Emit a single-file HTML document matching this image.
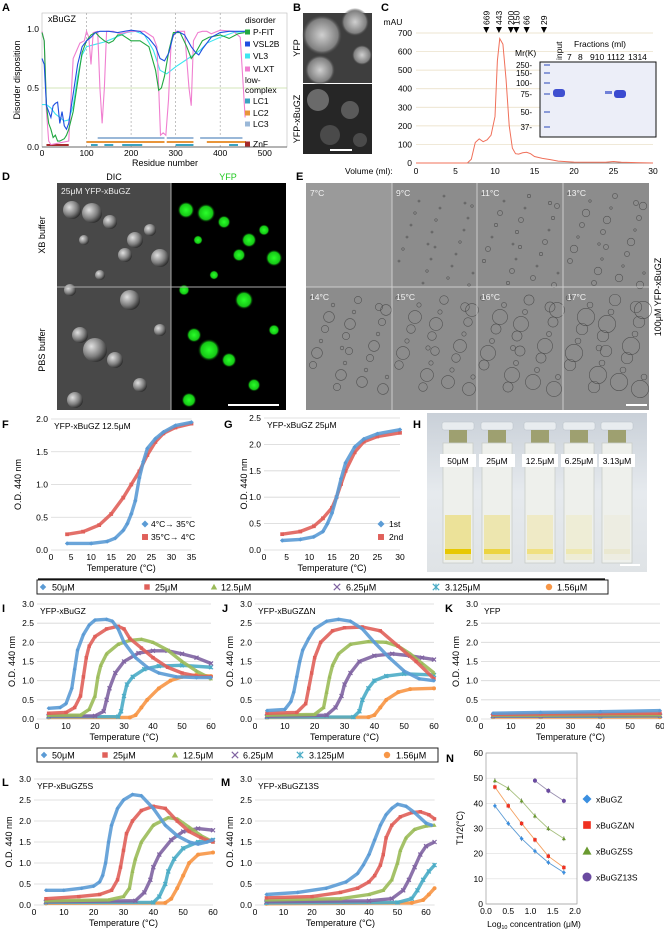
<!DOCTYPE html>
<html><head><meta charset="utf-8">
<style>
html,body{margin:0;padding:0;background:#fff}
svg{display:block;font-family:"Liberation Sans",Arial,sans-serif}
</style></head>
<body>
<svg id="fig" xmlns="http://www.w3.org/2000/svg" width="664" height="936" viewBox="0 0 664 936">
<defs>
<radialGradient id="dicDrop" cx="0.35" cy="0.35" r="0.7"><stop offset="0" stop-color="#e0e0e0"/><stop offset="0.6" stop-color="#808080"/><stop offset="1" stop-color="#2a2a2a"/></radialGradient>
<radialGradient id="gfpDrop" cx="0.5" cy="0.5" r="0.5"><stop offset="0" stop-color="#2aff2a"/><stop offset="0.7" stop-color="#16c816"/><stop offset="1" stop-color="#000" stop-opacity="0"/></radialGradient>
<radialGradient id="bBlob" cx="0.5" cy="0.5" r="0.5"><stop offset="0" stop-color="#d0d0d0"/><stop offset="0.8" stop-color="#808080"/><stop offset="1" stop-color="#4a4a4a" stop-opacity="0"/></radialGradient>
<linearGradient id="hBg" x1="0" y1="0" x2="0" y2="1"><stop offset="0" stop-color="#c9d0d8"/><stop offset="0.5" stop-color="#e6eaee"/><stop offset="1" stop-color="#dfe3e6"/></linearGradient>
</defs>
<g id="static">
<text x="2" y="11" font-size="11" font-weight="bold">A</text>
<text x="293" y="11" font-size="11" font-weight="bold">B</text>
<text x="381" y="11" font-size="11" font-weight="bold">C</text>
<text x="2" y="180" font-size="11" font-weight="bold">D</text>
<text x="296" y="180" font-size="11" font-weight="bold">E</text>
<text x="2" y="428" font-size="11" font-weight="bold">F</text>
<text x="224" y="428" font-size="11" font-weight="bold">G</text>
<text x="413" y="428" font-size="11" font-weight="bold">H</text>
<text x="2" y="612" font-size="11" font-weight="bold">I</text>
<text x="222" y="612" font-size="11" font-weight="bold">J</text>
<text x="445" y="612" font-size="11" font-weight="bold">K</text>
<text x="2" y="786" font-size="11" font-weight="bold">L</text>
<text x="221" y="786" font-size="11" font-weight="bold">M</text>
<text x="446" y="762" font-size="11" font-weight="bold">N</text>

<g>
<rect x="303" y="13" width="69" height="70" fill="#3e3e3e"/>
<circle cx="322" cy="35" r="20" fill="url(#bBlob)"/><circle cx="355" cy="22" r="14" fill="url(#bBlob)"/><circle cx="320" cy="70" r="15" fill="url(#bBlob)"/><circle cx="362" cy="55" r="10" fill="url(#bBlob)"/>
<rect x="303" y="84" width="69" height="70" fill="#262626"/>
<circle cx="318" cy="100" r="11" fill="#6a6a6a"/><circle cx="350" cy="110" r="9" fill="#5a5a5a"/><circle cx="330" cy="135" r="10" fill="#4a4a4a"/><circle cx="360" cy="140" r="7" fill="#4a4a4a"/>
<rect x="330" y="149" width="22" height="2" fill="#fff"/>
<text transform="translate(300,48) rotate(-90)" font-size="9" text-anchor="middle">YFP</text>
<text transform="translate(300,119) rotate(-90)" font-size="9" text-anchor="middle">YFP-xBuGZ</text>
</g>

<g>
<text x="114" y="180" font-size="9" text-anchor="middle">DIC</text>
<text x="228" y="180" font-size="9" text-anchor="middle" fill="#1ec81e">YFP</text>
<rect x="57" y="183" width="114" height="227" fill="#484848"/>
<rect x="171" y="183" width="115" height="227" fill="#000"/>
<g id="dDrops"></g>
<line x1="57" y1="287" x2="286" y2="287" stroke="#aaa" stroke-width="1"/>
<line x1="171" y1="183" x2="171" y2="410" stroke="#aaa" stroke-width="1"/>
<text x="61" y="194" font-size="8.5" fill="#eee">25μM YFP-xBuGZ</text>
<rect x="228" y="404" width="51" height="2" fill="#fff"/>
<text transform="translate(45,235) rotate(-90)" font-size="9" text-anchor="middle">XB buffer</text>
<text transform="translate(45,350) rotate(-90)" font-size="9" text-anchor="middle">PBS buffer</text>
</g>
<g>
<rect x="306" y="183" width="343" height="227" fill="#8c8c8c"/>
<rect x="306" y="183" width="86" height="104" fill="#9a9a9a"/>
<g id="eDrops"></g>
<g stroke="#ccc" stroke-width="1"><line x1="392" y1="183" x2="392" y2="410"/><line x1="477" y1="183" x2="477" y2="410"/><line x1="563" y1="183" x2="563" y2="410"/><line x1="306" y1="287" x2="649" y2="287"/></g>
<g font-size="8.5" fill="#f4f4f4"><text x="310" y="196">7°C</text><text x="396" y="196">9°C</text><text x="481" y="196">11°C</text><text x="567" y="196">13°C</text><text x="310" y="300">14°C</text><text x="396" y="300">15°C</text><text x="481" y="300">16°C</text><text x="567" y="300">17°C</text></g>
<rect x="626" y="404" width="21" height="2" fill="#fff"/>
<text transform="translate(661,297) rotate(-90)" font-size="9" text-anchor="middle">100μM YFP-xBuGZ</text>
</g>

<g>
<rect x="427" y="413" width="220" height="159" fill="url(#hBg)"/>
<g id="cuvettes"></g>
<rect x="620" y="564" width="20" height="2" fill="#fff"/>
</g>
<line x1="38" y1="579" x2="605" y2="579" stroke="#000" stroke-width="1.2"/>

<rect x="37" y="580" width="571" height="14" fill="#fff" stroke="#222" stroke-width="1"/>
<rect x="37" y="748" width="401" height="14" fill="#fff" stroke="#222" stroke-width="1"/>
<g id="legends"></g>
</g>
<g id="charts"></g>
</svg>
<script>
// ===== Panel A data (residue, disorder) =====
const aPfitX=[0,5,10,15,20,25,30,35,40,50,55,60,70,80,90,100,110,120,130,140,150,160,170,180,200,220,240,255,262,268,275,285,295,310,325,335,345,360,375,400,420,440,455];
const aPfitY=[.97,.9,.35,.2,.15,.08,.1,.05,.05,.07,.1,.15,.3,.55,.8,.9,.95,.97,.93,.9,.88,.9,.95,.95,.9,.9,.85,.65,.48,.5,.6,.82,.97,.97,.85,.75,.8,.9,.93,.95,.92,.96,.97];
const aVsl2bX=[0,5,10,15,20,25,30,35,40,45,50,55,60,70,80,90,100,110,120,130,150,170,200,220,240,255,265,275,285,295,305,320,335,345,352,360,380,400,420,460];
const aVsl2bY=[.75,.7,.35,.3,.25,.35,.37,.38,.2,.3,.18,.15,.2,.45,.7,.85,.9,.93,.97,.98,.98,.97,.99,.98,.92,.85,.75,.73,.8,.95,.98,.95,.85,.8,.78,.83,.93,.97,.98,.98];
const aVl3X=[0,10,20,30,40,50,60,70,80,90,100,120,140,160,190,210,230,250,265,280,300,320,340,355,370,400,430,460];
const aVl3Y=[.36,.36,.33,.28,.25,.22,.23,.35,.6,.78,.85,.87,.89,.92,.97,.98,.95,.82,.65,.62,.68,.73,.78,.82,.88,.93,.97,.98];
const aVlxtX=[0,5,10,15,20,60,70,85,95,100,105,110,115,125,130,135,140,145,160,175,200,230,250,258,262,266,272,278,284,290,300,320,330,335,340,350,360,370,380,400,430,445,452,456];
const aVlxtY=[.98,.9,.3,.05,.02,.05,.75,.88,.9,.98,.93,.7,.97,.98,.5,.2,.5,.98,.98,.96,.98,.98,.93,.85,.5,.1,.12,.1,.4,.9,.98,.98,.5,.35,.9,.97,.98,.98,.96,.99,.98,.93,.5,.25];
const aLc3=[[125,275],[280,340],[355,450]];
const aLc2=[[100,275],[280,340],[370,458]];
const aLc1=[[110,125],[140,160],[180,225],[300,340],[420,440]];
const aZnf=[[10,60]];
// ===== Panel C data =====
const cVol=[0,6.5,7,7.5,8,8.5,9,9.5,10,10.3,10.6,11,11.4,11.8,12.2,12.6,13,13.5,14,14.5,15,16,17,18,20,24,25,26,30];
const cMau=[0,0,20,110,130,115,125,150,250,550,670,640,450,200,80,50,48,55,58,50,35,25,18,10,5,4,8,4,0];
const cMarkers=["669","443","200","150","66","29"];
const cMarkerVol=[8.9,10.5,12.0,12.7,14.0,16.2];
// ===== Panel F/G =====
const fHeatT=[4,10,14,16,18,19,20,21,22,23,24,26,28,31,35];
const fHeatV=[.1,.1,.13,.18,.3,.4,.55,.75,1.1,1.35,1.55,1.7,1.8,1.9,1.95];
const fCoolT=[4,8,12,15,18,20,22,24,26,28,31,35];
const fCoolV=[.24,.28,.38,.55,.8,1.0,1.2,1.45,1.65,1.78,1.87,1.93];
const g1T=[4,8,11,13,14,15,16,17,18,20,22,25,30];
const g1V=[.18,.2,.25,.35,.5,.7,1.0,1.35,1.65,1.95,2.1,2.2,2.28];
const g2T=[4,8,11,13,15,16,17,18,20,22,25,30];
const g2V=[.3,.35,.45,.6,.8,1.0,1.25,1.5,1.85,2.05,2.15,2.22];
// ===== Panel I (YFP-xBuGZ) =====
const i50T=[4,8,10,12,13,14,16,18,20,24,26,28,30,34,38,42,48,55,60], i50V=[.28,.3,.4,.8,1.3,1.8,2.2,2.45,2.58,2.6,2.55,2.35,2.0,1.6,1.35,1.2,1.1,1.08,1.08];
const i25T=[4,10,13,15,16,17,18,20,24,28,30,32,36,40,45,50,55,60], i25V=[.15,.17,.3,.6,1.1,1.6,1.9,2.15,2.35,2.42,2.35,2.1,1.85,1.6,1.35,1.2,1.12,1.1];
const i12T=[4,15,18,20,21,22,24,28,32,36,40,45,50,55,60], i12V=[.1,.1,.25,.6,1.1,1.4,1.7,1.95,2.05,2.08,2.0,1.8,1.5,1.25,1.05];
const i6T=[4,20,23,24,25,27,30,35,40,45,50,55,60], i6V=[.08,.08,.2,.5,.8,1.2,1.5,1.72,1.78,1.78,1.7,1.6,1.45];
const i3T=[4,28,29,30,31,33,37,42,50,60], i3V=[.06,.06,.2,.6,.9,1.1,1.3,1.38,1.4,1.35];
const i1T=[4,32,34,36,38,42,46,50,55,60], i1V=[.04,.04,.1,.3,.5,.8,1.0,1.1,1.15,1.12];
// ===== Panel J (ΔN) =====
const j50T=[4,10,12,13,14,15,16,18,20,24,28,32,36,40,45,50,55,60], j50V=[.22,.25,.45,.7,1.1,1.5,1.8,2.1,2.35,2.55,2.6,2.55,2.35,2.0,1.6,1.25,1.05,1.0];
const j25T=[4,14,17,18,19,20,22,26,30,36,42,48,54,60], j25V=[.15,.17,.4,.8,1.2,1.6,2.0,2.3,2.38,2.4,2.3,1.9,1.5,1.05];
const j12T=[4,20,23,24,25,26,28,32,38,44,48,52,56,60], j12V=[.1,.12,.3,.7,1.1,1.4,1.7,1.95,2.02,2.0,1.9,1.7,1.45,1.2];
const j6T=[4,24,27,29,30,32,35,40,46,52,56,60], j6V=[.07,.1,.3,.6,.9,1.2,1.5,1.65,1.7,1.65,1.6,1.55];
const j3T=[4,33,35,36,38,40,44,50,60], j3V=[.05,.05,.2,.5,.8,1.0,1.12,1.18,1.15];
const j1T=[4,38,40,42,44,48,52,60], j1V=[.04,.05,.1,.3,.5,.7,.78,.8];
// ===== Panel K (YFP) =====
const kT=[4,20,40,60];
const k50V=[.15,.17,.19,.22], k25V=[.12,.13,.14,.15], k12V=[.1,.1,.11,.11], k6V=[.08,.08,.09,.09], k3V=[.07,.07,.07,.08], k1V=[.05,.05,.05,.05];
// ===== Panel L (5S) =====
const l50T=[4,10,16,20,22,23,24,25,26,28,30,33,36,40,44,48,52,55,58,60], l50V=[.35,.35,.4,.45,.55,.7,1.0,1.5,1.9,2.3,2.5,2.63,2.6,2.3,1.9,1.65,1.5,1.45,1.5,1.55];
const l25T=[4,15,22,26,28,29,30,31,33,36,40,44,48,52,56,60], l25V=[.15,.2,.25,.35,.6,.9,1.3,1.7,2.0,2.25,2.35,2.3,2.0,1.75,1.6,1.5];
const l12T=[4,25,30,32,33,34,36,40,45,48,52,56,60], l12V=[.1,.12,.2,.4,.8,1.1,1.5,1.9,2.08,2.05,1.85,1.65,1.5];
const l6T=[4,34,37,39,40,42,46,50,55,60], l6V=[.08,.1,.3,.6,.9,1.2,1.55,1.75,1.82,1.78];
const l3T=[4,40,42,44,45,47,50,55,60], l3V=[.06,.06,.2,.5,.8,1.1,1.35,1.5,1.55];
const l1T=[4,44,46,48,50,52,55,60], l1V=[.04,.05,.15,.4,.7,1.0,1.2,1.25];
// ===== Panel M (13S) =====
const m50T=[4,15,25,32,36,38,40,42,44,46,48,50,53,56,60,62], m50V=[.25,.3,.4,.55,.75,.95,1.2,1.55,1.9,2.15,2.3,2.4,2.35,2.2,1.95,1.9];
const m25T=[4,20,30,36,40,42,44,45,46,48,51,55,58,61,63], m25V=[.17,.2,.3,.4,.55,.7,.95,1.2,1.6,1.9,2.1,2.2,2.22,2.15,2.05];
const m12T=[4,30,40,45,48,50,51,53,56,60,63], m12V=[.12,.15,.25,.35,.6,1.0,1.3,1.6,1.8,1.88,1.9];
const m6T=[4,40,48,52,54,56,58,60,63], m6V=[.08,.1,.15,.35,.6,.9,1.2,1.4,1.5];
const m3T=[4,50,55,57,59,61,63], m3V=[.05,.06,.15,.35,.6,.8,.95];
const m1T=[4,55,59,61,63], m1V=[.03,.05,.12,.25,.4];
// ===== Panel N =====
const nLogC=[0.2,0.5,0.8,1.1,1.4,1.75];
const nWt=[39,32,26,21,16.5,12.5];
const nDN=[46.5,39,32,25.5,19,14.5];
const n5S=[49,46,41,35,30,26];
const n13LogC=[1.1,1.4,1.75];
const n13S=[49,45,41];
const concLabels=["50μM","25μM","12.5μM","6.25μM","3.125μM","1.56μM"];

const NS="http://www.w3.org/2000/svg";
const charts=document.getElementById('charts');
function mk(tag,attrs,parent){const e=document.createElementNS(NS,tag);for(const k in attrs)e.setAttribute(k,attrs[k]);(parent||charts).appendChild(e);return e;}
function txt(x,y,s,size,anchor,parent,extra){const e=mk('text',Object.assign({x:x,y:y,'font-size':size,'text-anchor':anchor||'start'},extra||{}),parent);e.textContent=s;return e;}
function lin(a0,a1,p0,p1){return v=>p0+(v-a0)/(a1-a0)*(p1-p0);}
const COLORS=['#5b9bd5','#e0605a','#9bbb59','#8064a2','#4bacc6','#f79646'];
const SHAPES=['diamond','square','triangle','x','star','circle'];
function marker(shape,x,y,s,color,parent){
  let e;
  if(shape==='diamond')e=mk('path',{d:`M${x} ${y-s}L${x+s} ${y}L${x} ${y+s}L${x-s} ${y}Z`,fill:color},parent);
  else if(shape==='square')e=mk('rect',{x:x-s*0.85,y:y-s*0.85,width:s*1.7,height:s*1.7,fill:color},parent);
  else if(shape==='triangle')e=mk('path',{d:`M${x} ${y-s}L${x+s} ${y+s*0.8}L${x-s} ${y+s*0.8}Z`,fill:color},parent);
  else if(shape==='x')e=mk('path',{d:`M${x-s} ${y-s}L${x+s} ${y+s}M${x+s} ${y-s}L${x-s} ${y+s}`,stroke:color,'stroke-width':1.2,fill:'none'},parent);
  else if(shape==='star')e=mk('path',{d:`M${x-s} ${y-s}L${x+s} ${y+s}M${x+s} ${y-s}L${x-s} ${y+s}M${x} ${y-s}L${x} ${y+s}`,stroke:color,'stroke-width':1.2,fill:'none'},parent);
  else e=mk('circle',{cx:x,cy:y,r:s,fill:color},parent);
  return e;
}

function axes(c){
  const g=mk('g',{});
  
  
  const X=lin(c.xmin,c.xmax,c.px0,c.px1), Y=lin(c.ymin,c.ymax,c.py0,c.py1);
  for(let v=c.ymin; v<=c.ymax+1e-9; v+=c.ystep){
    mk('line',{x1:c.px0,x2:c.gridRight||c.px1,y1:Y(v),y2:Y(v),stroke:c.gridColor||'#d6d6d6','stroke-width':0.8},g);
    txt(c.px0-3,Y(v)+3,c.fmtY(v),c.fs||8.5,'end',g);
  }
  for(let v=c.xmin; v<=c.xmax+1e-9; v+=c.xstep){
    txt(X(v),c.py0+10,c.fmtX(v),c.fs||8.5,'middle',g);
  }
  if(c.xlabel)txt(c.xlabelX||(c.px0+c.px1)/2,c.py0+21,c.xlabel,c.fs?c.fs+0.5:9,'middle',g);
  if(c.ylabel)txt(0,0,c.ylabel,9,'middle',g,{transform:`translate(${c.ylabelX},${(c.py0+c.py1)/2}) rotate(-90)`});
  if(c.title)txt(c.px0+3,c.py1+10,c.title,8.5,'start',g);
  return {X,Y,g};
}
function series(ax,T,V,ci,name,s){
  const g=mk('g',{},ax.g);
  
  
  const pts=T.map((t,i)=>ax.X(t)+','+ax.Y(V[i])).join(' ');
  mk('polyline',{points:pts,fill:'none',stroke:COLORS[ci],'stroke-width':3.4,'stroke-linejoin':'round','stroke-opacity':0.9},g);
  T.forEach((t,i)=>{marker(SHAPES[ci],ax.X(t),ax.Y(V[i]),s||2.2,COLORS[ci],g);});
}

// ---------- Panel A ----------
(function(){
  const X=lin(0,550,42,287), Y=lin(0,1,147,29);
  const g=mk('g',{});
  
  
  mk('rect',{x:42,y:13,width:245,height:134,fill:'none',stroke:'#bbb','stroke-width':0.6},g);
  [100,200,300,400].forEach(v=>mk('line',{x1:X(v),x2:X(v),y1:13,y2:147,stroke:'#999','stroke-dasharray':'2,2','stroke-width':0.6},g));
  mk('line',{x1:42,x2:287,y1:Y(0.5),y2:Y(0.5),stroke:'#c5dca0','stroke-width':0.8},g);
  mk('line',{x1:42,x2:287,y1:147,y2:147,stroke:'#444','stroke-width':0.8},g);
  [0,100,200,300,400,500].forEach(v=>txt(X(v),156,String(v),8.5,'middle',g));
  [0,0.5,1.0].forEach(v=>txt(39,Y(v)+3,v.toFixed(1),8.5,'end',g));
  txt(165,166,'Residue number',9,'middle',g);
  txt(0,0,'Disorder disposition',9,'middle',g,{transform:'translate(20,80) rotate(-90)'});
  txt(48,22,'xBuGZ',9,'start',g);
  const bars=[[aLc3,'#9ab8d8',138,'lc3'],[aLc2,'#e8953a',142,'lc2'],[aLc1,'#3ba3c0',145,'lc1'],[aZnf,'#a52a2a',145,'znf']];
  bars.forEach(b=>b[0].forEach(r=>{const e=mk('line',{x1:X(r[0]),x2:X(r[1]),y1:b[2],y2:b[2],stroke:b[1],'stroke-width':2},g);}));
  const sr=[[aVl3X,aVl3Y,'#3ee6f0','vl3'],[aVlxtX,aVlxtY,'#f07fd0','vlxt'],[aPfitX,aPfitY,'#20a840','p-fit'],[aVsl2bX,aVsl2bY,'#1f4fe0','vsl2b']];
  sr.forEach(s=>{const e=mk('polyline',{points:s[0].map((x,i)=>X(x)+','+Y(s[1][i])).join(' '),fill:'none',stroke:s[2],'stroke-width':1.1},g);});
  const leg=[['disorder',null,20],['P-FIT','#20a840',32],['VSL2B','#1f4fe0',44],['VL3','#3ee6f0',56],['VLXT','#f07fd0',69],['low-',null,80],['complex',null,90],['LC1','#3ba3c0',101],['LC2','#e8953a',113],['LC3','#9ab8d8',124],['ZnF','#a52a2a',144]];
  leg.forEach(l=>{
    const x=l[1]?253:245;
    const t=txt(x,l[2]+3,l[0],8.5,'start',g);
    
    
    if(l[1])mk('rect',{x:245,y:l[2]-2.5,width:5,height:5,fill:l[1]},g);
  });
})();

// ---------- Panel C ----------
(function(){
  const X=lin(0,30,416,653), Y=lin(0,700,163,33);
  const g=mk('g',{});
  
  
  for(let v=0;v<=700;v+=100){mk('line',{x1:416,x2:653,y1:Y(v),y2:Y(v),stroke:'#e8dcc0','stroke-width':0.7},g);txt(412,Y(v)+3,String(v),8.5,'end',g);}
  mk('line',{x1:416,x2:653,y1:163,y2:163,stroke:'#666','stroke-width':0.7},g);
  for(let v=0;v<=30;v+=5)txt(X(v),174,String(v),8.5,'middle',g);
  txt(345,174,'Volume (ml):',8.5,'start',g);
  txt(393,25,'mAU',8.5,'middle',g);
  const c=mk('polyline',{points:cVol.map((v,i)=>X(v)+','+Y(cMau[i])).join(' '),fill:'none',stroke:'#f0705a','stroke-width':1},g);
  
  
  cMarkers.forEach((m,i)=>{
    const x=X(cMarkerVol[i]);
    const a=mk('path',{d:`M${x-3} 27L${x+3} 27L${x} 33Z`,fill:'#000'},g);
    
    
    txt(0,0,m,8.5,'start',g,{transform:`translate(${x+3},25) rotate(-90)`});
  });
  const gel=mk('g',{},g);
  
  
  mk('rect',{x:540,y:62,width:116,height:75,fill:'#eceef8',stroke:'#111','stroke-width':1},gel);
  [[65,'250'],[73,'150'],[83,'100'],[94,'75'],[112,'50'],[127,'37']].forEach(m=>{txt(532,m[0]+3,m[1]+'-',8,'end',gel);mk('rect',{x:544,y:m[0]-1,width:6,height:2,fill:'#8a9ad8'},gel);});
  mk('rect',{x:553,y:89,width:12,height:8,rx:3,fill:'#4050d0'},gel);
  mk('rect',{x:605,y:91,width:7,height:3,fill:'#7080d8'},gel);
  mk('rect',{x:614,y:90,width:12,height:8,rx:3,fill:'#3a4ad0'},gel);
  txt(515,56,'Mr(K)',8.5,'start',gel);
  txt(600,47,'Fractions (ml)',8.5,'middle',gel);
  txt(0,0,'input',8.5,'start',gel,{transform:'translate(562,60) rotate(-90)'});
  txt(567,60,'7',8.5,'start',gel);txt(578,60,'8',8.5,'start',gel);txt(590,60,'910',8.5,'start',gel);txt(607,60,'1112',8.5,'start',gel);txt(628,60,'1314',8.5,'start',gel);
})();

// ---------- D/E decoration ----------
(function(){
  const dd=document.getElementById('dDrops');
  const drops=[[72,210,9],[92,213,10],[110,222,7],[135,240,8],[125,255,7],[160,258,9],[100,275,5],[70,290,6],[95,350,12],[80,335,8],[115,360,8],[160,330,6],[75,400,8],[140,385,7],[130,300,10],[150,230,6],[84,240,5]];
  drops.forEach(d=>{mk('circle',{cx:d[0],cy:d[1],r:d[2],fill:'url(#dicDrop)'},dd);mk('circle',{cx:d[0]+114,cy:d[1],r:d[2]*0.95,fill:'url(#gfpDrop)'},dd);});
  const ed=document.getElementById('eDrops');
  const cols=[306,392,477,563];
  for(let r=0;r<2;r++)for(let c=0;c<4;c++){
    const idx=r*4+c; if(idx===0)continue;
    const base=idx<4?(idx*0.7):(3+(idx-4)*0.6);
    for(let k=0;k<26;k++){
      const x=cols[c]+6+((k*37)%78), y=(r?290:186)+8+((k*53)%94);
      const rr=Math.max(1,base*((k%3)+1)*0.6);
      mk('circle',{cx:x,cy:y,r:rr,fill:'none',stroke:'#444','stroke-width':0.6,'stroke-opacity':0.8},ed);
    }
  }
  const cu=document.getElementById('cuvettes');
  const cx=[458,497,540,579,617], yel=['#e8c800','#ecd440','#f0e080','#eee8b0','#eae8d0'];
  cx.forEach((x,i)=>{
    mk('rect',{x:x-16,y:422,width:32,height:8,rx:2,fill:'#e8ecef',stroke:'#b8c0c8','stroke-width':0.5},cu);
    mk('rect',{x:x-9,y:430,width:18,height:16,fill:'#9ea070'},cu);
    mk('rect',{x:x-15,y:443,width:30,height:120,fill:'#eef0ec',stroke:'#c8ccc8','stroke-width':0.8},cu);
    mk('rect',{x:x-13,y:515,width:26,height:45,fill:yel[i],'fill-opacity':0.35},cu);
    mk('rect',{x:x-13,y:549,width:26,height:5,fill:yel[i]},cu);
    const lb=['50μM','25μM','12.5μM','6.25μM','3.13μM'][i];
    mk('rect',{x:x-18,y:454,width:36,height:13,fill:'#fff'},cu);
    const t=txt(x,464,lb,8.5,'middle',cu);
    
    
  });
})();

// ---------- F ----------
(function(){
  const ax=axes({name:'panel-f-chart',xmin:0,xmax:35,px0:51,px1:191.5,ymin:0,ymax:2,py0:550,py1:419,xstep:5,ystep:0.5,fmtX:v=>String(v),fmtY:v=>v.toFixed(1),xlabel:'Temperature (°C)',ylabel:'O.D. 440 nm',ylabelX:21,title:'YFP-xBuGZ 12.5μM'});
  series(ax,fCoolT,fCoolV,1,'series-cooling');
  series(ax,fHeatT,fHeatV,0,'series-heating');
  marker('diamond',145,524,3.5,COLORS[0],ax.g);txt(151,527,'4°C→ 35°C',8.5,'start',ax.g);
  marker('square',145,537,3.5,COLORS[1],ax.g);txt(151,540,'35°C→ 4°C',8.5,'start',ax.g);
})();
// ---------- G ----------
(function(){
  const ax=axes({name:'panel-g-chart',xmin:0,xmax:30,px0:264,px1:400,ymin:0,ymax:2.5,py0:550,py1:418,xstep:5,ystep:0.5,fmtX:v=>String(v),fmtY:v=>v.toFixed(1),xlabel:'Temperature (°C)',ylabel:'O.D. 440 nm',ylabelX:247,title:'YFP-xBuGZ 25μM'});
  series(ax,g2T,g2V,1,'series-2nd');
  series(ax,g1T,g1V,0,'series-1st');
  marker('diamond',381,524,3.5,COLORS[0],ax.g);txt(389,527,'1st',8.5,'start',ax.g);
  marker('square',381,537,3.5,COLORS[1],ax.g);txt(389,540,'2nd',8.5,'start',ax.g);
})();

function turbPanel(name,px0,px1,py0,py1,xmax,title,data){
  const ax=axes({name:name,xmin:0,xmax:60,px0:px0,px1:px1,gridRight:lin(0,60,px0,px1)(xmax),ymin:0,ymax:3,py0:py0,py1:py1,xstep:10,ystep:0.5,fmtX:v=>String(v),fmtY:v=>v.toFixed(1),xlabel:'Temperature (°C)',ylabel:'O.D. 440 nm',ylabelX:px0-22,title:title});
  for(let i=data.length-1;i>=0;i--)series(ax,data[i][0],data[i][1],i,'series-'+concLabels[i].replace('μM','uM'),2);
}
turbPanel('panel-i-chart',37,211,719,604,60,'YFP-xBuGZ',[[i50T,i50V],[i25T,i25V],[i12T,i12V],[i6T,i6V],[i3T,i3V],[i1T,i1V]]);
turbPanel('panel-j-chart',255,434,719,604,60,'YFP-xBuGZΔN',[[j50T,j50V],[j25T,j25V],[j12T,j12V],[j6T,j6V],[j3T,j3V],[j1T,j1V]]);
turbPanel('panel-k-chart',481,660,719,604,60,'YFP',[[kT,k50V],[kT,k25V],[kT,k12V],[kT,k6V],[kT,k3V],[kT,k1V]]);
turbPanel('panel-l-chart',34,213,905,779,60,'YFP-xBuGZ5S',[[l50T,l50V],[l25T,l25V],[l12T,l12V],[l6T,l6V],[l3T,l3V],[l1T,l1V]]);
turbPanel('panel-m-chart',255,426,905,779,63,'YFP-xBuGZ13S',[[m50T,m50V],[m25T,m25V],[m12T,m12V],[m6T,m6V],[m3T,m3V],[m1T,m1V]]);

(function(){
  const lg=document.getElementById('legends');
  const top=[[43,52],[147,155],[214,221],[337,346],[436,445],[549,557]];
  const bot=[[44,52],[105,113],[175,183],[235,243],[300,309],[387,396]];
  [[top,587],[bot,755]].forEach(L=>L[0].forEach((p,i)=>{
    marker(SHAPES[i],p[0],L[1],3.2,COLORS[i],lg);
    const t=txt(p[1],L[1]+3.5,concLabels[i],9,'start',lg);
    
    
  }));
})();

(function(){
  const X=lin(0,2,486,575), Y=lin(0,60,904,753);
  const g=mk('g',{});
  
  
  for(let v=0;v<=60;v+=10){mk('line',{x1:486,x2:577,y1:Y(v),y2:Y(v),stroke:'#ddd','stroke-width':0.7},g);txt(483,Y(v)+3,String(v),8.5,'end',g);}
  mk('rect',{x:486,y:753,width:91,height:151,fill:'none',stroke:'#999','stroke-width':0.7},g);
  for(let v=0;v<=2;v+=0.5)txt(X(v),914,v.toFixed(1),8.5,'middle',g);
  const xl=txt(534,927,'Log',8.5,'middle',g);
  xl.innerHTML='Log<tspan font-size="5.5" dy="2">10</tspan><tspan dy="-2"> concentration (μM)</tspan>';
  txt(0,0,'T1/2(°C)',9,'middle',g,{transform:'translate(463,828) rotate(-90)'});
  const S=[[nLogC,nWt,'#5b9bd5','#3b8fe0','diamond','xBuGZ',799],[nLogC,nDN,'#f4a060','#f03020','square','xBuGZΔN',825],[nLogC,n5S,'#a8c080','#6a9a30','triangle','xBuGZ5S',851],[n13LogC,n13S,'#9a90b0','#6a4aa0','circle','xBuGZ13S',877]];
  S.forEach(s=>{
    const ln=mk('polyline',{points:s[0].map((x,i)=>X(x)+','+Y(s[1][i])).join(' '),fill:'none',stroke:s[2],'stroke-width':0.9},g);
    
    
    s[0].forEach((x,i)=>{mk('line',{x1:X(x),x2:X(x),y1:Y(s[1][i])-2.5,y2:Y(s[1][i])+2.5,stroke:'#555','stroke-width':0.6},g);marker(s[4],X(x),Y(s[1][i]),2,s[3],g);});
    marker(s[4],587,s[6],4.5,s[3],g);
    const t=txt(596,s[6]+3.5,s[5],8.5,'start',g);
    
    
  });
})();
</script>
</body></html>
